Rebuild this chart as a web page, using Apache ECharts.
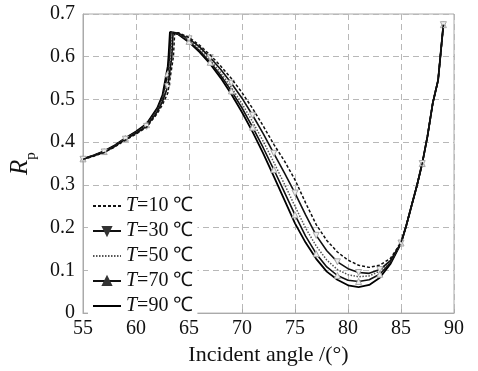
<!DOCTYPE html>
<html>
<head>
<meta charset="utf-8">
<script src="https://cdn.jsdelivr.net/npm/echarts@6/dist/echarts.min.js"></script>
<style>html,body{margin:0;padding:0;background:#fff}#c{width:478px;height:371px}</style>
</head>
<body>
<div id="c"></div>
<script>
// Rising branch angles (common), near-cusp angles (per series), descending/right branch angles (common)
const risingAngles = [55,56,57,58,59,60,61,62,62.5];
const fallingAngles = [64,65,66,67,68,69,70,71,72,73,74,75,76,77,78,79,80,81,82,83,84,85,85.5,86,86.5,87,87.5,88,88.5,88.75,89];
const seriesNames = ['T=10 ℃','T=30 ℃','T=50 ℃','T=70 ℃','T=90 ℃'];
const legendLabels = ['{i|T}=10 ℃','{i|T}=30 ℃','{i|T}=50 ℃','{i|T}=70 ℃','{i|T}=90 ℃'];

// near-cusp points per series: [63.0, cusp-0.12, cusp]
const cuspAngles = [[63.0,63.53,63.65],[63.0,63.38,63.5],[63.0,63.28,63.4],[63.0,63.18,63.3],[63.0,63.08,63.2]];
const cuspR      = [[.515,.600,.656],[.530,.600,.657],[.545,.600,.657],[.560,.602,.658],[.578,.605,.658]];

const riseT10 = [.360,.367,.376,.389,.405,.419,.435,.467,.488];
const riseT30 = [.360,.368,.377,.390,.407,.421,.437,.471,.495];
const riseT50 = [.360,.368,.377,.391,.408,.422,.439,.474,.500];
const riseT70 = [.361,.369,.378,.392,.409,.424,.441,.477,.505];
const riseT90 = [.361,.369,.379,.393,.410,.425,.443,.480,.510];

const fallT10 = [.656,.645,.627,.604,.578,.549,.516,.479,.438,.395,.356,.312,.258,.207,.170,.143,.124,.112,.107,.112,.128,.165,.205,.252,.298,.350,.414,.492,.545,.610,.675];
const fallT30 = [.655,.642,.623,.598,.570,.538,.503,.463,.420,.374,.328,.281,.230,.182,.146,.120,.104,.095,.093,.102,.123,.164,.205,.252,.298,.350,.414,.492,.545,.610,.675];
const fallT50 = [.654,.639,.618,.592,.562,.528,.490,.448,.402,.353,.302,.250,.199,.157,.124,.102,.090,.085,.087,.098,.121,.164,.205,.252,.298,.350,.414,.492,.545,.610,.675];
const fallT70 = [.653,.636,.614,.587,.556,.520,.480,.435,.387,.336,.283,.230,.180,.139,.108,.088,.077,.074,.078,.091,.118,.164,.205,.252,.298,.350,.414,.492,.545,.610,.675];
const fallT90 = [.652,.634,.611,.583,.550,.512,.470,.424,.374,.320,.265,.210,.165,.127,.097,.078,.065,.061,.066,.083,.115,.163,.205,.252,.298,.350,.414,.492,.545,.610,.675];

const rises = [riseT10, riseT30, riseT50, riseT70, riseT90];
const falls = [fallT10, fallT30, fallT50, fallT70, fallT90];

const font = 'Liberation Serif';
function build(k){
  const pts = [];
  risingAngles.forEach((a,j)=>pts.push([a, rises[k][j]]));
  cuspAngles[k].forEach((a,j)=>pts.push([a, cuspR[k][j]]));
  fallingAngles.forEach((a,j)=>pts.push([a, falls[k][j]]));
  return pts;
}
const isMarker = v => Math.abs(v[0] - Math.round(v[0])) < 1e-6 && Math.round(v[0]) % 2 === 1;
const styles = [
  {type:[3,2], width:1.5, color:'#111', symbol:'none'},
  {type:'solid', width:1.6, color:'#111', symbol:'triangle', rot:180},
  {type:[1.5,1.5], width:1.5, color:'#555', symbol:'none'},
  {type:'solid', width:1.6, color:'#111', symbol:'triangle', rot:0},
  {type:'solid', width:1.8, color:'#000', symbol:'none'}
];
const series = styles.map((s,k)=>({
  name: seriesNames[k],
  type:'line',
  data: build(k),
  symbol: s.symbol,
  symbolRotate: s.rot || 0,
  symbolSize: s.symbol==='none' ? 0 : (v => isMarker(v) ? 6 : 0),
  showSymbol: s.symbol!=='none',
  itemStyle: {color:'#eeeeee', borderColor:'#a8a8a8', borderWidth:1},
  lineStyle: {type:s.type, width:s.width, color:s.color},
  emphasis:{disabled:true},
  animation:false,
  z: 5-k
}));
const chart = echarts.init(document.getElementById('c'), null, {renderer:'canvas'});
chart.setOption({
  animation:false,
  backgroundColor:'#fff',
  grid:{left:81, right:24, top:14, bottom:54, show:true, borderColor:'#aaa', borderWidth:1, backgroundColor:'transparent'},
  xAxis:{type:'value', min:55, max:90, interval:5,
    name:'Incident angle /(°)', nameLocation:'middle', nameGap:30,
    nameTextStyle:{fontFamily:font, fontSize:22, color:'#111'},
    axisLine:{lineStyle:{color:'#aaa'}},
    axisTick:{inside:true, length:4, lineStyle:{color:'#aaa'}},
    axisLabel:{fontFamily:font, fontSize:20, color:'#111', margin:6},
    splitLine:{show:true, lineStyle:{type:[6,4], color:'#b8b8b8', width:1}}
  },
  yAxis:{type:'value', min:0, max:0.7, interval:0.1,
    name:'{i|R}{s|p}', nameLocation:'middle', nameGap:50, nameRotate:90,
    nameTextStyle:{rich:{i:{fontFamily:font, fontStyle:'italic', fontSize:25, color:'#111'}, s:{fontFamily:font, fontSize:15, color:'#111', verticalAlign:'bottom', padding:[0,0,-6,0]}}},
    axisLine:{show:true, lineStyle:{color:'#aaa'}},
    axisTick:{show:false},
    axisLabel:{fontFamily:font, fontSize:20, color:'#111', margin:8, formatter: v => (v===0?'0':v.toFixed(1))},
    splitLine:{show:true, lineStyle:{type:[6,4], color:'#b8b8b8', width:1}}
  },
  legend:{orient:'vertical', left:88, top:194, backgroundColor:'#fff', padding:[2,4,2,4],
    itemWidth:28, itemHeight:10, itemGap:5,
    data: seriesNames.map((n,k)=>({name:n,
      itemStyle: styles[k].symbol==='none' ? {color:'rgba(0,0,0,0)', borderColor:'rgba(0,0,0,0)', borderWidth:0} : {color:'#333', borderColor:'#333'}})),
    formatter: n => legendLabels[seriesNames.indexOf(n)],
    textStyle:{fontFamily:font, fontSize:20, color:'#111', rich:{i:{fontFamily:font, fontStyle:'italic', fontSize:20, color:'#111'}}}
  },
  series: series
});
</script>
</body>
</html>
